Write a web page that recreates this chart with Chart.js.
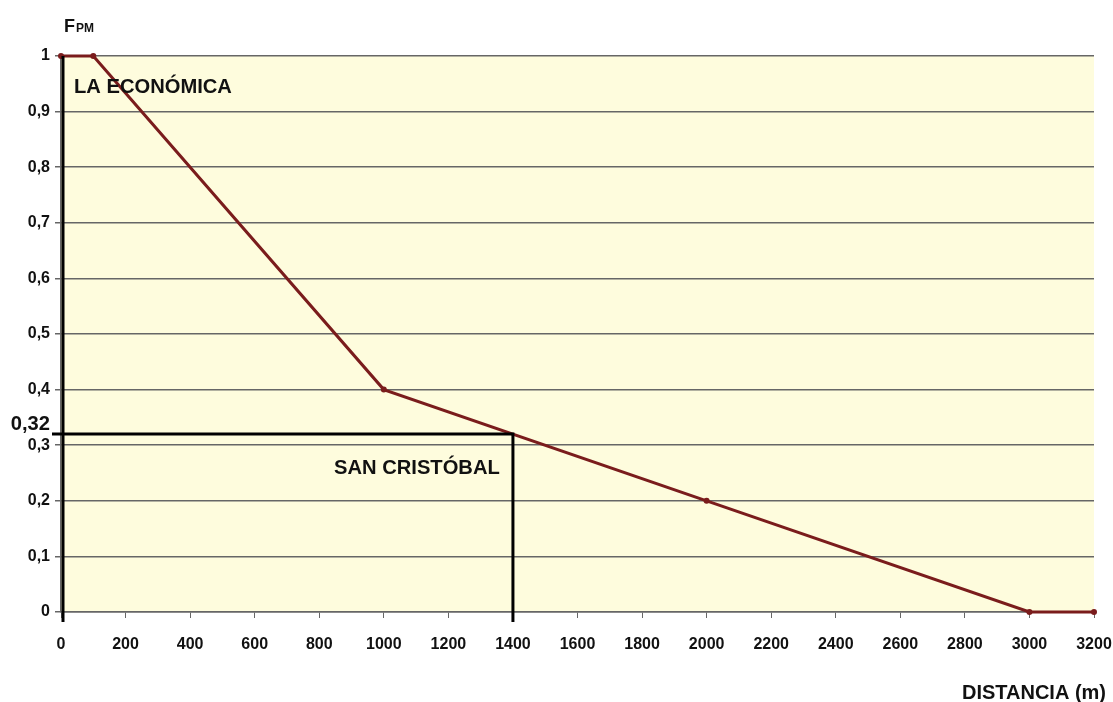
<!DOCTYPE html>
<html>
<head>
<meta charset="utf-8">
<script src="https://cdn.jsdelivr.net/npm/chart.js@4.4.0/dist/chart.umd.min.js"></script>
<style>
  html, body { margin: 0; padding: 0; background: #fff; }
  #wrap { width: 1113px; height: 702px; position: relative; }
</style>
</head>
<body>
<div id="wrap"><canvas id="c" width="1113" height="702"></canvas></div>
<script>
// distance (m) and F_PM values
var distancia = [0, 100, 1000, 2000, 3000, 3200];
var fpm = [1, 1, 0.4, 0.2, 0, 0];
var xTicks = [0, 200, 400, 600, 800, 1000, 1200, 1400, 1600, 1800, 2000, 2200, 2400, 2600, 2800, 3000, 3200];
var yTicks = [0, 0.1, 0.2, 0.3, 0.4, 0.5, 0.6, 0.7, 0.8, 0.9, 1];
// reference points marked on the chart
var laEconomica = { x: 0, y: 1 };
var sanCristobal = { x: 1400, y: 0.32 };

var font = '"Liberation Sans", Arial, sans-serif';

function narrowText(ctx, txt, x, y, sx) {
  ctx.save();
  ctx.translate(x, y);
  ctx.scale(sx, 1);
  ctx.fillText(txt, 0, 0);
  ctx.restore();
}

var decor = {
  id: 'decor',
  beforeDraw: function(chart) {
    var a = chart.chartArea, ctx = chart.ctx;
    ctx.save();
    ctx.fillStyle = '#fefcdd';
    ctx.fillRect(a.left, a.top, a.right - a.left, a.bottom - a.top);
    ctx.restore();
  },
  afterDatasetsDraw: function(chart) {
    var ctx = chart.ctx, xs = chart.scales.x, ys = chart.scales.y;
    var bottom = ys.getPixelForValue(0);
    ctx.save();
    ctx.strokeStyle = '#000';
    ctx.lineWidth = 3;
    // La Economica vertical
    var x0 = xs.getPixelForValue(laEconomica.x) + 2;
    ctx.beginPath();
    ctx.moveTo(x0, ys.getPixelForValue(laEconomica.y));
    ctx.lineTo(x0, bottom + 10);
    ctx.stroke();
    // San Cristobal
    var sx = xs.getPixelForValue(sanCristobal.x), sy = ys.getPixelForValue(sanCristobal.y);
    ctx.beginPath();
    ctx.moveTo(xs.getPixelForValue(0) - 9, sy);
    ctx.lineTo(sx, sy);
    ctx.lineTo(sx, bottom + 10);
    ctx.stroke();

    ctx.fillStyle = '#111';
    ctx.textBaseline = 'alphabetic';
    ctx.textAlign = 'left';
    ctx.font = 'bold 21px ' + font;
    narrowText(ctx, 'LA ECONÓMICA', 74, 93, 0.96);
    narrowText(ctx, 'SAN CRISTÓBAL', 334, 474, 0.96);
    ctx.textAlign = 'right';
    ctx.font = 'bold 21px ' + font;
    narrowText(ctx, '0,32', 50, sy - 4, 0.96);
    ctx.font = 'bold 20px ' + font;
    ctx.fillText('DISTANCIA (m)', 1106, 699);
    ctx.textAlign = 'left';
    ctx.font = 'bold 18px ' + font;
    ctx.fillText('F', 64, 32);
    ctx.font = 'bold 12px ' + font;
    ctx.fillText('PM', 76, 32);
    ctx.restore();
  }
};

new Chart(document.getElementById('c'), {
  type: 'line',
  data: {
    datasets: [{
      data: distancia.map(function(d, i) { return { x: d, y: fpm[i] }; }),
      borderColor: '#7a1c1c',
      backgroundColor: '#7a1c1c',
      borderWidth: 3,
      pointRadius: 1.5,
      pointHoverRadius: 1.5,
      tension: 0,
      clip: false
    }]
  },
  options: {
    responsive: false,
    animation: false,
    events: [],
    layout: { padding: { left: 0, top: 56, right: 0, bottom: 0 } },
    plugins: { legend: { display: false }, tooltip: { enabled: false } },
    scales: {
      x: {
        type: 'linear',
        min: 0, max: 3200,
        afterFit: function(s) { s.height = 90; s.paddingRight = 19; },
        afterBuildTicks: function(s) { s.ticks = xTicks.map(function(v) { return { value: v }; }); },
        grid: { drawOnChartArea: false, drawTicks: true, tickLength: 6, color: '#666' },
        border: { color: '#666', width: 1.5 },
        ticks: {
          color: '#111', font: { family: font, size: 16, weight: 'bold' }, padding: 17, maxRotation: 0, autoSkip: false,
          callback: function(v) { return String(v); }
        }
      },
      y: {
        type: 'linear',
        min: 0, max: 1,
        afterFit: function(s) { s.width = 61; },
        afterBuildTicks: function(s) { s.ticks = yTicks.map(function(v) { return { value: v }; }); },
        grid: { color: '#666', lineWidth: 1.5, tickLength: 6 },
        border: { color: '#666', width: 1.5 },
        ticks: {
          color: '#111', font: { family: font, size: 16, weight: 'bold' }, padding: 5,
          callback: function(v) { return String(Math.round(v * 10) / 10).replace('.', ','); }
        }
      }
    }
  },
  plugins: [decor]
});
</script>
</body>
</html>
